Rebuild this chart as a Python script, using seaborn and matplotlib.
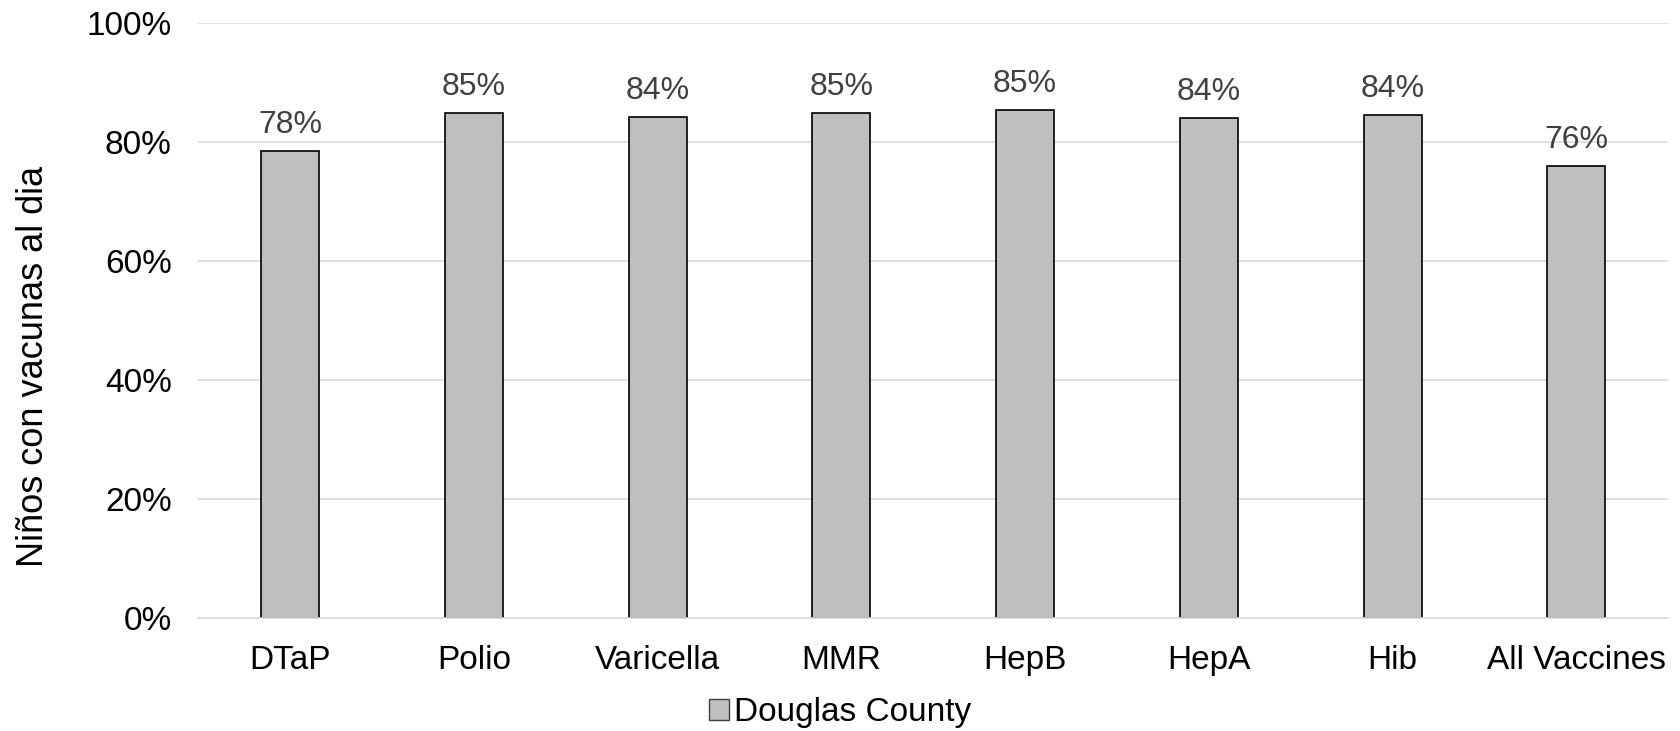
import numpy as np
import pandas as pd
import seaborn as sns
from matplotlib import pyplot as plt
from matplotlib.patches import Patch
from matplotlib.ticker import PercentFormatter

sns.set_style('white')
plt.rcParams['font.family'] = ['Liberation Sans', 'DejaVu Sans']

vacunas = ['DTaP', 'Polio', 'Varicella', 'MMR', 'HepB', 'HepA', 'Hib', 'All Vaccines']
valores = [0.784, 0.849, 0.842, 0.849, 0.854, 0.840, 0.845, 0.759]
serie = 'Douglas County'

df = pd.DataFrame({'vacuna': vacunas, 'valor': valores, 'serie': serie})

fig = plt.figure(figsize=(16.8, 7.31), dpi=100)
ax = fig.add_axes([0.118, 0.154, 0.875, 0.815])

sns.barplot(data=df, x='vacuna', y='valor', hue='serie', palette=['#bfbfbf'],
            edgecolor='black', linewidth=1.2, width=0.315, ax=ax, legend=False)

for c in ax.containers:
    ax.bar_label(c, labels=[f'{v*100:.0f}%' for v in c.datavalues],
                 padding=8, fontsize=23, color='#404040')

ax.set_ylim(0, 1)
ax.set_xlim(-0.5, len(vacunas) - 0.5)
ax.yaxis.set_major_formatter(PercentFormatter(1.0, decimals=0))
ax.set_yticks(np.arange(0, 1.01, 0.2))
ax.yaxis.grid(True, color='#d9d9d9', linewidth=1.2)
ax.set_axisbelow(True)
ax.tick_params(axis='y', labelsize=24, length=0, pad=19, labelcolor='black')
ax.tick_params(axis='x', labelsize=24, length=0, pad=19, labelcolor='black')
ax.set_xlabel('')
ax.set_ylabel('Niños con vacunas al dia', fontsize=26, color='black')
ax.yaxis.set_label_coords(-0.100, 0.423)
for s in ['left', 'right', 'top']:
    ax.spines[s].set_visible(False)
ax.spines['bottom'].set_color('#d9d9d9')
ax.spines['bottom'].set_linewidth(1.2)

handles = [Patch(facecolor='#bfbfbf', edgecolor='#404040', linewidth=1, label=serie)]
fig.legend(handles=handles, loc='center', bbox_to_anchor=(0.5, 0.025), frameon=False,
           fontsize=24, handlelength=0.6, handleheight=0.6, handletextpad=0.15,
           labelcolor='black')

fig.savefig('out.png', dpi=100)
